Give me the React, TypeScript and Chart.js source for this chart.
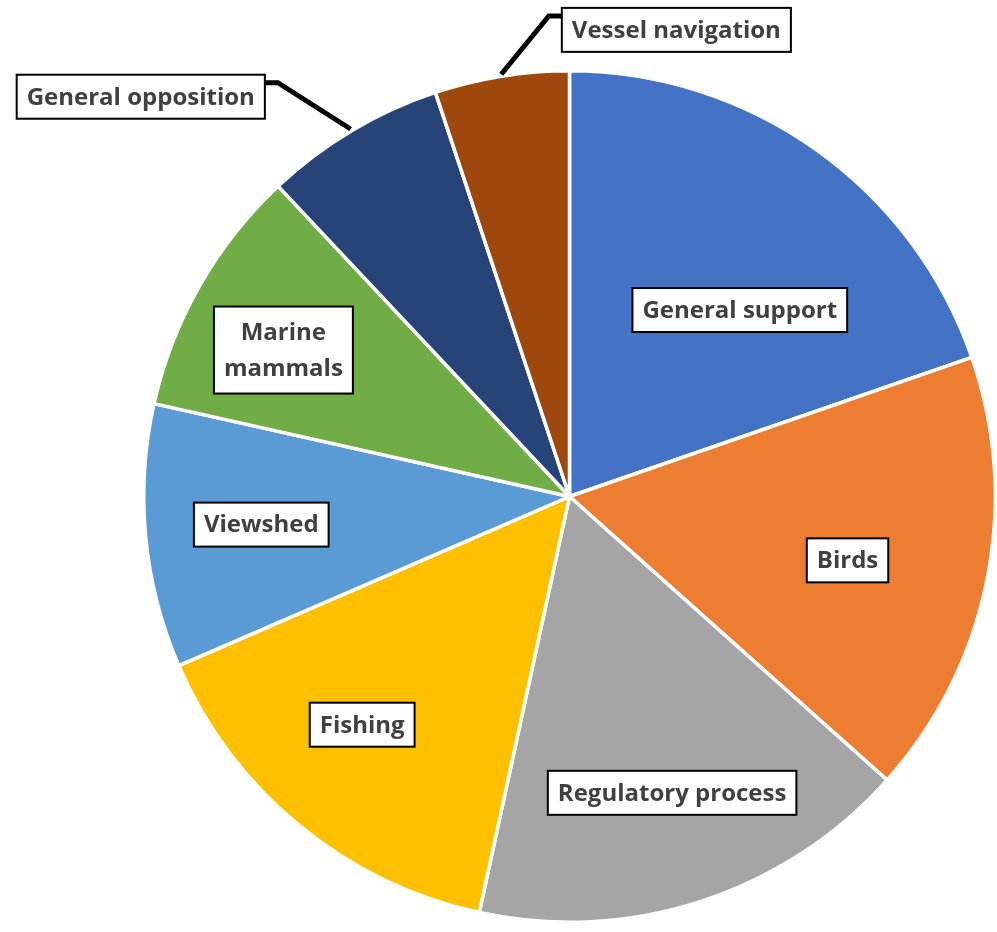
import React, { useEffect, useRef } from "react";
import { Chart, registerables } from "chart.js";

Chart.register(...registerables);

// ---- data ----
const categories = [
  "General support",
  "Birds",
  "Regulatory process",
  "Fishing",
  "Viewshed",
  "Marine mammals",
  "General opposition",
  "Vessel navigation",
];
const values = [19.7, 16.9, 16.8, 15.1, 10.0, 9.5, 6.9, 5.1];
const colors = [
  "#4472C4",
  "#ED7D31",
  "#A5A5A5",
  "#FFC000",
  "#5B9BD5",
  "#70AD47",
  "#264478",
  "#9E480E",
];
const labelLines = [
  ["General support"],
  ["Birds"],
  ["Regulatory process"],
  ["Fishing"],
  ["Viewshed"],
  ["Marine", "mammals"],
  ["General opposition"],
  ["Vessel navigation"],
];

// ---- label layout (centre of each label box relative to pie centre, in radius units) ----
const labelOffsets = [
  [0.4, -0.438],
  [0.653, 0.15],
  [0.241, 0.696],
  [-0.487, 0.536],
  [-0.724, 0.066],
  [-0.672, -0.344],
  [-1.007, -0.939],
  [0.251, -1.096],
];
const labelOutside = [false, false, false, false, false, false, true, true];

const FONT = "bold 24px 'Open Sans'";
const LINE_H = 36;

const boxLabelPlugin = {
  id: "boxLabels",
  afterDatasetsDraw(chart: any) {
    const ctx = chart.ctx as CanvasRenderingContext2D;
    const meta = chart.getDatasetMeta(0);
    ctx.save();
    ctx.font = FONT;
    meta.data.forEach((arc: any, i: number) => {
      const { x, y, outerRadius, startAngle, endAngle } = arc.getProps(
        ["x", "y", "outerRadius", "startAngle", "endAngle"],
        true
      );
      const cx = x + labelOffsets[i][0] * outerRadius;
      const cy = y + labelOffsets[i][1] * outerRadius;
      const lines = labelLines[i];
      const tw = Math.max(...lines.map((l) => ctx.measureText(l).width));
      const w = tw + 20;
      const h = lines.length * LINE_H + 8 + (lines.length - 1) * 7;
      const left = cx - w / 2;
      const top = cy - h / 2;
      if (labelOutside[i]) {
        const mid = (startAngle + endAngle) / 2;
        const px = x + Math.cos(mid) * (outerRadius + 2);
        const py = y + Math.sin(mid) * (outerRadius + 2);
        const onRight = px > cx;
        const edgeX = onRight ? left + w : left;
        const elbowX = onRight ? edgeX + 13 : edgeX - 13;
        const ly = top + 8;
        ctx.beginPath();
        ctx.moveTo(px, py);
        ctx.lineTo(elbowX, ly);
        ctx.lineTo(edgeX, ly);
        ctx.strokeStyle = "#000";
        ctx.lineWidth = 5;
        ctx.lineJoin = "miter";
        ctx.stroke();
      }
      ctx.fillStyle = "#fff";
      ctx.fillRect(left, top, w, h);
      ctx.strokeStyle = "#000";
      ctx.lineWidth = 2;
      ctx.strokeRect(left, top, w, h);
      ctx.fillStyle = "#404040";
      ctx.textAlign = "center";
      ctx.textBaseline = "middle";
      lines.forEach((l, k) => {
        ctx.fillText(l, cx, cy + 1 + (k - (lines.length - 1) / 2) * LINE_H);
      });
    });
    ctx.restore();
  },
};

export default function App() {
  const ref = useRef<HTMLCanvasElement | null>(null);
  useEffect(() => {
    if (!ref.current) return;
    const chart = new Chart(ref.current, {
      type: "pie",
      data: {
        labels: categories,
        datasets: [
          {
            data: values,
            backgroundColor: colors,
            borderColor: "#ffffff",
            borderWidth: 3.5,
          },
        ],
      },
      options: {
        responsive: true,
        maintainAspectRatio: false,
        animation: false,
        events: [],
        layout: { padding: { left: 142, right: 0, top: 69, bottom: 8 } },
        plugins: {
          legend: { display: false },
          tooltip: { enabled: false },
        },
      },
      plugins: [boxLabelPlugin],
    });
    return () => chart.destroy();
  }, []);
  return (
    <div
      style={{
        position: "absolute",
        left: 0,
        top: 0,
        width: 997,
        height: 932,
        background: "#fff",
      }}
    >
      <canvas ref={ref} />
    </div>
  );
}
